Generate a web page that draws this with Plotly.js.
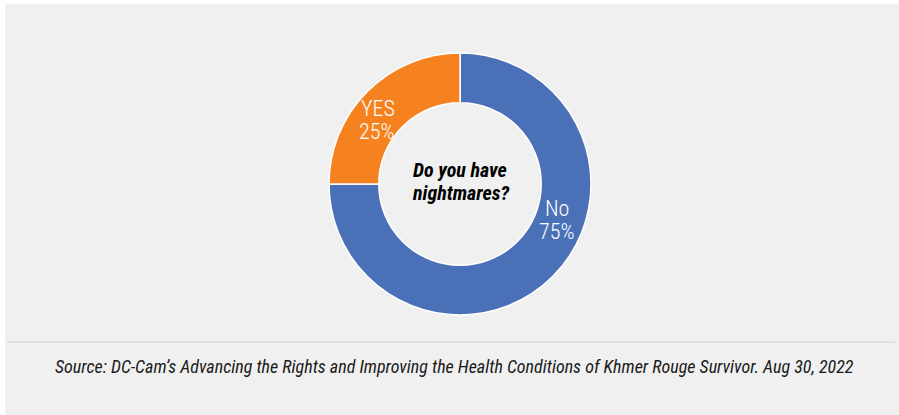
<!DOCTYPE html>
<html>
<head>
<meta charset="utf-8">
<script src="https://cdn.plot.ly/plotly-3.0.1.min.js"></script>
<style>html,body{margin:0;padding:0;background:#fff;}#chart{width:899px;height:415px;}
#chart text{font-stretch:condensed !important;}
</style>
</head>
<body>
<div id="chart"></div>
<script>
const categories = ['No', 'YES'];
const values = [75, 25];
const sliceColors = ['#4a71b8', '#f5821f'];
const centerTitleLines = ['Do you have', 'nightmares?'];
const sourceText = 'Source: DC-Cam\u2019s Advancing the Rights and Improving the Health Conditions of Khmer Rouge Survivor. Aug 30, 2022';

const W = 899, H = 415;
const FONT = '"Roboto Condensed", Roboto, sans-serif';
const total = values.reduce((a, b) => a + b, 0);
// label line positions in pixels (name line, percent line)
const labelPos = [[[557, 208], [556, 231]], [[378, 108], [376, 131]]];
const titlePos = [[460, 170], [461, 193]];

function ann(px, py, text, font) {
  return {x: px / W, y: 1 - py / H, xref: 'paper', yref: 'paper', text: text, showarrow: false,
    font: font, xanchor: 'center', yanchor: 'middle', align: 'center', borderpad: 0};
}

const annotations = [];
const labelFont = {family: FONT, size: 22, color: '#ffffff', weight: 300};
categories.forEach((c, i) => {
  annotations.push(ann(labelPos[i][0][0], labelPos[i][0][1], c, labelFont));
  annotations.push(ann(labelPos[i][1][0], labelPos[i][1][1], Math.round(values[i] / total * 100) + '%', labelFont));
});
centerTitleLines.forEach((t, i) => {
  annotations.push(ann(titlePos[i][0], titlePos[i][1], '<b><i>' + t + '</i></b>', {family: FONT, size: 20, color: '#000000'}));
});
annotations.push(ann(454, 366, '<i>' + sourceText + '</i>', {family: FONT, size: 18, color: '#1a1a1a'}));

const data = [{
  type: 'pie', labels: categories, values: values, hole: 0.62, sort: false,
  direction: 'clockwise', rotation: 0,
  marker: {colors: sliceColors, line: {color: '#ffffff', width: 1.5}},
  textinfo: 'none', hoverinfo: 'label+percent', showlegend: false,
  domain: {x: [329 / W, 591 / W], y: [(231 - 131) / H, (231 + 131) / H]}
}];

const layout = {
  width: W, height: H, margin: {l: 0, r: 0, t: 0, b: 0},
  paper_bgcolor: '#f0f0f0', plot_bgcolor: '#f0f0f0', showlegend: false,
  annotations: annotations,
  shapes: [
    {type: 'rect', xref: 'paper', yref: 'paper', x0: 0, x1: 5 / W, y0: 0, y1: 1, fillcolor: '#ffffff', line: {width: 0}},
    {type: 'rect', xref: 'paper', yref: 'paper', x0: 0, x1: 1, y0: 1 - 4 / H, y1: 1, fillcolor: '#ffffff', line: {width: 0}},
    {type: 'line', xref: 'paper', yref: 'paper', x0: 7 / W, x1: 895 / W, y0: 1 - 342 / H, y1: 1 - 342 / H, line: {color: '#cfcfcf', width: 1.2}}
  ]
};

Plotly.newPlot('chart', data, layout, {displayModeBar: false, staticPlot: true});
</script>
</body>
</html>
